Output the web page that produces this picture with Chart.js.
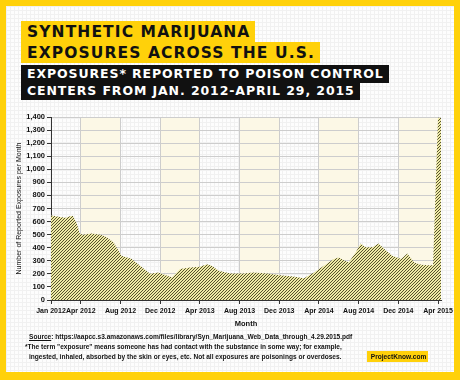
<!DOCTYPE html>
<html>
<head>
<meta charset="utf-8">
<script src="https://cdn.jsdelivr.net/npm/chart.js@4"></script>
<style>
    html, body { margin: 0; padding: 0; }
    body {
        width: 460px; height: 380px; position: relative; overflow: hidden;
        background: #ffd10a;
        font-family: "DejaVu Sans", sans-serif;
    }
    .paper {
        position: absolute; left: 6px; top: 6px; width: 448px; height: 366px;
        background-color: #fdfdfd;
        background-image:
            linear-gradient(#f1f1f1 1px, transparent 1px),
            linear-gradient(90deg, #f1f1f1 1px, transparent 1px);
        background-size: 4px 4px;
    }
    .hl { position: absolute; left: 21px; font-weight: bold; white-space: nowrap; }
    .yel { background: #ffd10a; color: #111; font-size: 15.5px; height: 21px; line-height: 22px; padding: 0 5px 0 6px; letter-spacing: 1.1px; }
    .blk { background: #111; color: #fff; font-size: 12.5px; height: 18px; line-height: 18px; padding: 0 5px 0 6px; letter-spacing: 0.9px; }
    #chartBox { position: absolute; left: 0; top: 100px; width: 460px; height: 236px; }
    .foot {
        position: absolute; font-family: "Liberation Sans", sans-serif;
        font-size: 8px; color: #111; white-space: nowrap; font-weight: bold;
        transform: scaleX(0.82); transform-origin: left top;
    }
    .badge {
        position: absolute; left: 367px; top: 351px; width: 61px; height: 11px;
        background: #ffd10a; color: #111; font-size: 7.5px; font-weight: bold;
        font-family: "Liberation Sans", sans-serif;
        text-align: center; line-height: 11px;
    }
    .badge span { display: inline-block; transform: scaleX(0.88); }
</style>
</head>
<body>
<div class="paper"></div>
<div class="hl yel" style="top:21px;">SYNTHETIC MARIJUANA</div>
<div class="hl yel" style="top:42px;">EXPOSURES ACROSS THE U.S.</div>
<div class="hl blk" style="top:65px;">EXPOSURES* REPORTED TO POISON CONTROL</div>
<div class="hl blk" style="top:82px;">CENTERS FROM JAN. 2012-APRIL 29, 2015</div>

<div id="chartBox"><canvas id="exposureChart" width="460" height="236"></canvas></div>

<div class="foot" style="left:29px; top:332px;"><u>Source</u>: https://aapcc.s3.amazonaws.com/files/library/Syn_Marijuana_Web_Data_through_4.29.2015.pdf</div>
<div class="foot" style="left:25px; top:342px;">*The term "exposure" means someone has had contact with the substance in some way; for example,</div>
<div class="foot" style="left:29px; top:352px;">ingested, inhaled, absorbed by the skin or eyes, etc. Not all exposures are poisonings or overdoses.</div>
<div class="badge"><span>ProjectKnow.com</span></div>

<script>
// months since Jan 2012
const monthPos = [0, 0.5, 1.1, 1.5, 1.9, 2.2, 2.6, 2.9, 3.2, 4.1, 5.0, 5.6, 6.3, 7.1, 8.1, 9.2, 10.0,
    10.8, 11.5, 12.2, 13.0, 14.0, 15.0, 15.7, 16.2, 16.9, 18.1, 19.4, 20.4, 21.8, 23.1, 24.4,
    25.5, 26.5, 27.5, 28.5, 29.0, 29.5, 30.0, 30.7, 31.2, 31.7, 32.4, 33.0, 33.7, 34.4, 35.3,
    35.9, 36.6, 37.3, 38.0, 38.5, 39.0, 39.3];
const exposures = [646, 640, 633, 630, 640, 645, 585, 508, 500, 508, 500, 480, 441, 338, 315, 249, 200,
    210, 192, 172, 238, 249, 255, 274, 262, 223, 203, 203, 210, 203, 190, 180,
    167, 210, 262, 313, 326, 305, 287, 364, 433, 403, 403, 433, 382, 338, 313,
    356, 287, 269, 266, 265, 1395, 1395];

const tickMonths = [0, 3, 7, 11, 15, 19, 23, 27, 31, 35, 39];
const tickLabels = ['Jan 2012', 'Apr 2012', 'Aug 2012', 'Dec 2012', 'Apr 2013', 'Aug 2013',
    'Dec 2013', 'Apr 2014', 'Aug 2014', 'Dec 2014', 'Apr 2015'];
// shaded background periods (start, end month)
const bandStarts = [3, 11, 19, 27, 35];
const bandEnds = [7, 15, 23, 31, 39.3];

const labelFont = '"Liberation Sans", sans-serif';

function makeHatch(ctx) {
    const c = document.createElement('canvas');
    c.width = 3; c.height = 3;
    const g = c.getContext('2d');
    g.fillStyle = '#efeba6';
    g.fillRect(0, 0, 3, 3);
    g.strokeStyle = '#45411f';
    g.lineWidth = 0.9;
    g.beginPath();
    g.moveTo(-1, 4); g.lineTo(4, -1);
    g.moveTo(-1, 1); g.lineTo(1, -1);
    g.moveTo(2, 4); g.lineTo(4, 2);
    g.stroke();
    return ctx.createPattern(c, 'repeat');
}

const bandPlugin = {
    id: 'bands',
    beforeDraw(chart) {
        const { ctx, chartArea, scales } = chart;
        ctx.save();
        ctx.fillStyle = '#fcf8e6';
        bandStarts.forEach((s, i) => {
            const x1 = scales.x.getPixelForValue(s);
            const x2 = Math.min(scales.x.getPixelForValue(bandEnds[i]), chartArea.right);
            ctx.fillRect(x1, chartArea.top, x2 - x1, chartArea.bottom - chartArea.top);
        });
        ctx.restore();
    }
};

const canvas = document.getElementById('exposureChart');
const ctx = canvas.getContext('2d');

new Chart(ctx, {
    type: 'line',
    data: {
        datasets: [{
            data: monthPos.map((m, i) => ({ x: m, y: exposures[i] })),
            fill: 'origin',
            backgroundColor: makeHatch(ctx),
            borderWidth: 0,
            pointRadius: 0,
            tension: 0
        }]
    },
    options: {
        responsive: false,
        animation: false,
        layout: { padding: { left: 15, right: 19, top: 17, bottom: 0 } },
        plugins: { legend: { display: false }, tooltip: { enabled: false } },
        scales: {
            x: {
                type: 'linear',
                min: 0,
                max: 39.3,
                afterBuildTicks: (scale) => { scale.ticks = tickMonths.map(v => ({ value: v })); },
                afterFit: (scale) => { scale.height = 36; },
                ticks: {
                    autoSkip: false, maxRotation: 0, padding: 3,
                    color: '#111',
                    font: { family: labelFont, size: 7, weight: 'bold' },
                    callback: (v) => tickLabels[tickMonths.indexOf(v)]
                },
                grid: { color: '#cdcdcd', tickColor: '#333', tickLength: 4 },
                border: { color: '#333' },
                title: {
                    display: true, text: 'Month', color: '#111', padding: { top: 1, bottom: 8 },
                    font: { family: labelFont, size: 7.5, weight: 'bold' }
                }
            },
            y: {
                min: 0,
                max: 1400,
                afterFit: (scale) => { scale.width = 36; },
                ticks: {
                    autoSkip: false, stepSize: 100, padding: 2, color: '#111',
                    font: { family: labelFont, size: 7.5, weight: 'bold' },
                    callback: (v) => v.toLocaleString('en-US')
                },
                grid: { color: '#cdcdcd', tickColor: '#333', tickLength: 4 },
                border: { color: '#333' },
                title: {
                    display: true, text: 'Number of Reported Exposures per Month', color: '#111',
                    padding: 0,
                    font: { family: labelFont, size: 7 }
                }
            }
        }
    },
    plugins: [bandPlugin]
});
</script>
</body>
</html>
